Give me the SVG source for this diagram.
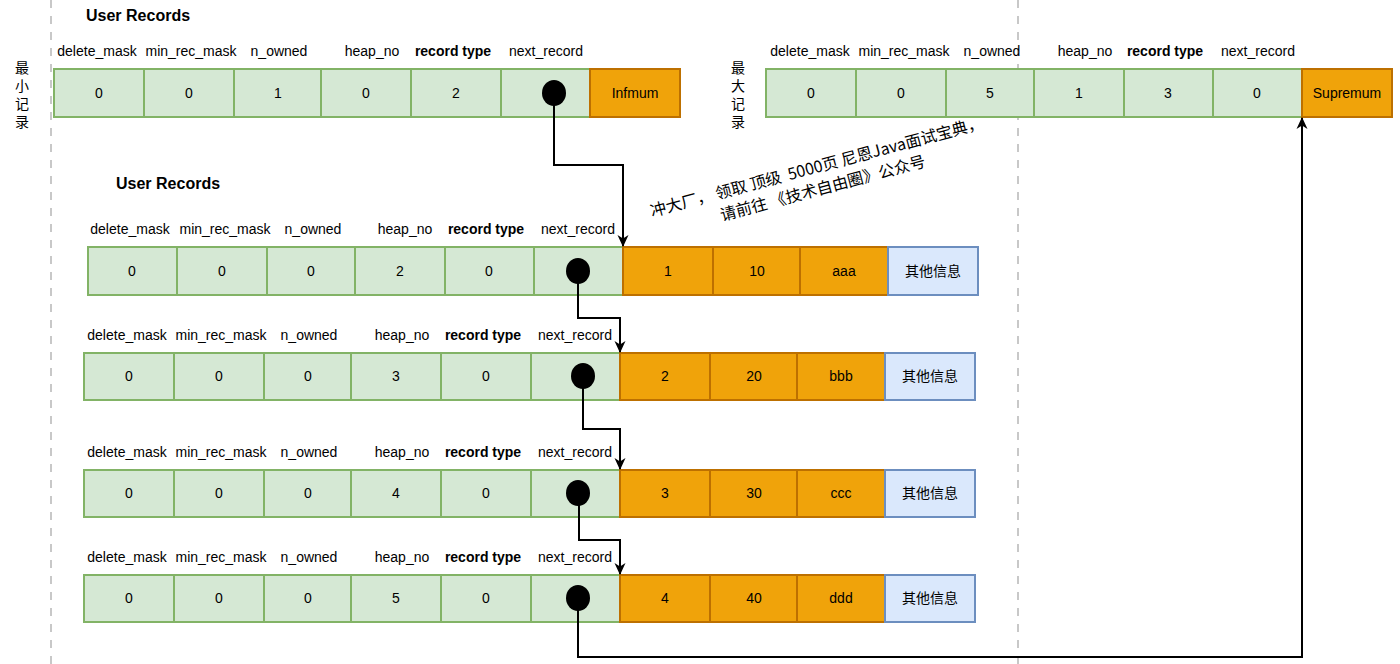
<svg xmlns="http://www.w3.org/2000/svg" width="1400" height="664" viewBox="0 0 1400 664">
<style>
text{font-family:"Liberation Sans",Arial,"Noto Sans CJK SC",sans-serif;fill:#000}
.g{fill:#d5e8d4;stroke:#82b366;stroke-width:2}
.o{fill:#f0a30a;stroke:#bd7000;stroke-width:2}
.b{fill:#dae8fc;stroke:#6c8ebf;stroke-width:2}
.v{font-size:14px;text-anchor:middle}
.l{font-size:14px;text-anchor:middle}
.bold{font-weight:bold}
.t{font-size:16px;font-weight:bold}
.cjk{font-family:"Noto Sans CJK SC","Liberation Sans",sans-serif;font-size:14px;text-anchor:middle}
.note{font-family:"Noto Sans CJK SC","Liberation Sans",sans-serif;font-size:16px}
.dash{stroke:#c8c8c8;stroke-width:2;stroke-dasharray:8 8;fill:none}
.c{fill:none;stroke:#000;stroke-width:2}
</style>
<defs>
<marker id="arr" markerWidth="12" markerHeight="12" refX="11" refY="6" orient="auto" markerUnits="userSpaceOnUse" viewBox="0 0 12 12">
<path d="M0,0.5 L12,6 L0,11.5 L3.5,6 z" fill="#000"/>
</marker>
</defs>
<rect width="1400" height="664" fill="#fff"/>
<g id="dividers">
<line class="dash" x1="51" y1="0" x2="51" y2="664"/>
<line class="dash" x1="1018" y1="0" x2="1018" y2="664"/>
</g>
<g id="titles">
<text class="t" x="86" y="21">User Records</text>
<text class="t" x="116" y="189">User Records</text>
<text class="cjk" x="22" y="73">最</text>
<text class="cjk" x="22" y="91">小</text>
<text class="cjk" x="22" y="109">记</text>
<text class="cjk" x="22" y="127">录</text>
<text class="cjk" x="738" y="73">最</text>
<text class="cjk" x="738" y="91">大</text>
<text class="cjk" x="738" y="109">记</text>
<text class="cjk" x="738" y="127">录</text>
</g>
<g id="note">
<text class="note" xml:space="preserve" x="652" y="217" transform="rotate(-15 652 217)">冲大厂， 领取 顶级  5000页 尼恩Java面试宝典，</text>
<text class="note" xml:space="preserve" x="722" y="221" transform="rotate(-15 722 221)">请前往 《技术自由圈》公众号</text>
</g>
<g id="infimum-record">
<text class="l" x="97" y="56">delete_mask</text>
<text class="l" x="191" y="56">min_rec_mask</text>
<text class="l" x="279" y="56">n_owned</text>
<text class="l" x="372" y="56">heap_no</text>
<text class="l bold" x="453" y="56">record type</text>
<text class="l" x="546" y="56">next_record</text>
<rect class="g" x="54" y="69" width="90" height="48"/>
<rect class="g" x="144" y="69" width="90" height="48"/>
<rect class="g" x="234" y="69" width="87" height="48"/>
<rect class="g" x="321" y="69" width="90" height="48"/>
<rect class="g" x="411" y="69" width="90" height="48"/>
<rect class="g" x="501" y="69" width="89" height="48"/>
<rect class="o" x="590" y="69" width="90" height="48"/>
<text class="v" x="99" y="98">0</text>
<text class="v" x="189" y="98">0</text>
<text class="v" x="278" y="98">1</text>
<text class="v" x="366" y="98">0</text>
<text class="v" x="456" y="98">2</text>
<ellipse cx="554" cy="93" rx="12" ry="13" fill="#000"/>
<text class="v" x="635" y="98">Infmum</text>
</g>
<g id="supremum-record">
<text class="l" x="810" y="56">delete_mask</text>
<text class="l" x="904" y="56">min_rec_mask</text>
<text class="l" x="992" y="56">n_owned</text>
<text class="l" x="1085" y="56">heap_no</text>
<text class="l bold" x="1165" y="56">record type</text>
<text class="l" x="1258" y="56">next_record</text>
<rect class="g" x="766" y="69" width="90" height="48"/>
<rect class="g" x="856" y="69" width="90" height="48"/>
<rect class="g" x="946" y="69" width="88" height="48"/>
<rect class="g" x="1034" y="69" width="90" height="48"/>
<rect class="g" x="1124" y="69" width="89" height="48"/>
<rect class="g" x="1213" y="69" width="89" height="48"/>
<rect class="o" x="1302" y="69" width="90" height="48"/>
<text class="v" x="811" y="98">0</text>
<text class="v" x="901" y="98">0</text>
<text class="v" x="990" y="98">5</text>
<text class="v" x="1079" y="98">1</text>
<text class="v" x="1168" y="98">3</text>
<text class="v" x="1257" y="98">0</text>
<text class="v" x="1347" y="98">Supremum</text>
</g>
<g id="record-1">
<text class="l" x="130" y="234">delete_mask</text>
<text class="l" x="225" y="234">min_rec_mask</text>
<text class="l" x="313" y="234">n_owned</text>
<text class="l" x="405" y="234">heap_no</text>
<text class="l bold" x="486" y="234">record type</text>
<text class="l" x="578" y="234">next_record</text>
<rect class="g" x="88" y="247" width="89" height="48"/>
<rect class="g" x="177" y="247" width="90" height="48"/>
<rect class="g" x="267" y="247" width="88" height="48"/>
<rect class="g" x="355" y="247" width="90" height="48"/>
<rect class="g" x="445" y="247" width="89" height="48"/>
<rect class="g" x="534" y="247" width="89" height="48"/>
<rect class="o" x="623" y="247" width="90" height="48"/>
<rect class="o" x="713" y="247" width="87" height="48"/>
<rect class="o" x="800" y="247" width="88" height="48"/>
<rect class="b" x="888" y="247" width="90" height="48"/>
<text class="v" x="132" y="276">0</text>
<text class="v" x="222" y="276">0</text>
<text class="v" x="311" y="276">0</text>
<text class="v" x="400" y="276">2</text>
<text class="v" x="489" y="276">0</text>
<ellipse cx="578" cy="271" rx="12" ry="13" fill="#000"/>
<text class="v" x="668" y="276">1</text>
<text class="v" x="757" y="276">10</text>
<text class="v" x="844" y="276">aaa</text>
<text class="cjk" x="933" y="276">其他信息</text>
</g>
<g id="record-2">
<text class="l" x="127" y="340">delete_mask</text>
<text class="l" x="221" y="340">min_rec_mask</text>
<text class="l" x="309" y="340">n_owned</text>
<text class="l" x="402" y="340">heap_no</text>
<text class="l bold" x="483" y="340">record type</text>
<text class="l" x="575" y="340">next_record</text>
<rect class="g" x="84" y="353" width="90" height="47"/>
<rect class="g" x="174" y="353" width="90" height="47"/>
<rect class="g" x="264" y="353" width="87" height="47"/>
<rect class="g" x="351" y="353" width="90" height="47"/>
<rect class="g" x="441" y="353" width="90" height="47"/>
<rect class="g" x="531" y="353" width="89" height="47"/>
<rect class="o" x="620" y="353" width="90" height="47"/>
<rect class="o" x="710" y="353" width="87" height="47"/>
<rect class="o" x="797" y="353" width="88" height="47"/>
<rect class="b" x="885" y="353" width="90" height="47"/>
<text class="v" x="129" y="381">0</text>
<text class="v" x="219" y="381">0</text>
<text class="v" x="308" y="381">0</text>
<text class="v" x="396" y="381">3</text>
<text class="v" x="486" y="381">0</text>
<ellipse cx="583" cy="376" rx="12" ry="13" fill="#000"/>
<text class="v" x="665" y="381">2</text>
<text class="v" x="754" y="381">20</text>
<text class="v" x="841" y="381">bbb</text>
<text class="cjk" x="930" y="381">其他信息</text>
</g>
<g id="record-3">
<text class="l" x="127" y="457">delete_mask</text>
<text class="l" x="221" y="457">min_rec_mask</text>
<text class="l" x="309" y="457">n_owned</text>
<text class="l" x="402" y="457">heap_no</text>
<text class="l bold" x="483" y="457">record type</text>
<text class="l" x="575" y="457">next_record</text>
<rect class="g" x="84" y="470" width="90" height="47"/>
<rect class="g" x="174" y="470" width="90" height="47"/>
<rect class="g" x="264" y="470" width="87" height="47"/>
<rect class="g" x="351" y="470" width="90" height="47"/>
<rect class="g" x="441" y="470" width="90" height="47"/>
<rect class="g" x="531" y="470" width="89" height="47"/>
<rect class="o" x="620" y="470" width="90" height="47"/>
<rect class="o" x="710" y="470" width="87" height="47"/>
<rect class="o" x="797" y="470" width="88" height="47"/>
<rect class="b" x="885" y="470" width="90" height="47"/>
<text class="v" x="129" y="498">0</text>
<text class="v" x="219" y="498">0</text>
<text class="v" x="308" y="498">0</text>
<text class="v" x="396" y="498">4</text>
<text class="v" x="486" y="498">0</text>
<ellipse cx="578" cy="493" rx="12" ry="13" fill="#000"/>
<text class="v" x="665" y="498">3</text>
<text class="v" x="754" y="498">30</text>
<text class="v" x="841" y="498">ccc</text>
<text class="cjk" x="930" y="498">其他信息</text>
</g>
<g id="record-4">
<text class="l" x="127" y="562">delete_mask</text>
<text class="l" x="221" y="562">min_rec_mask</text>
<text class="l" x="309" y="562">n_owned</text>
<text class="l" x="402" y="562">heap_no</text>
<text class="l bold" x="483" y="562">record type</text>
<text class="l" x="575" y="562">next_record</text>
<rect class="g" x="84" y="575" width="90" height="47"/>
<rect class="g" x="174" y="575" width="90" height="47"/>
<rect class="g" x="264" y="575" width="87" height="47"/>
<rect class="g" x="351" y="575" width="90" height="47"/>
<rect class="g" x="441" y="575" width="90" height="47"/>
<rect class="g" x="531" y="575" width="89" height="47"/>
<rect class="o" x="620" y="575" width="90" height="47"/>
<rect class="o" x="710" y="575" width="87" height="47"/>
<rect class="o" x="797" y="575" width="88" height="47"/>
<rect class="b" x="885" y="575" width="90" height="47"/>
<text class="v" x="129" y="603">0</text>
<text class="v" x="219" y="603">0</text>
<text class="v" x="308" y="603">0</text>
<text class="v" x="396" y="603">5</text>
<text class="v" x="486" y="603">0</text>
<ellipse cx="578" cy="598" rx="12" ry="13" fill="#000"/>
<text class="v" x="665" y="603">4</text>
<text class="v" x="754" y="603">40</text>
<text class="v" x="841" y="603">ddd</text>
<text class="cjk" x="930" y="603">其他信息</text>
</g>
<g id="connectors">
<polyline class="c" points="554,93 554,165 623,165 623,246" marker-end="url(#arr)"/>
<polyline class="c" points="578,271 578,318 620,318 620,352" marker-end="url(#arr)"/>
<polyline class="c" points="583,376 583,429 620,429 620,469" marker-end="url(#arr)"/>
<polyline class="c" points="579,493 579,540 620,540 620,574" marker-end="url(#arr)"/>
<polyline class="c" points="578,598 578,657 1302,657 1302,118" marker-end="url(#arr)"/>
</g>
</svg>
